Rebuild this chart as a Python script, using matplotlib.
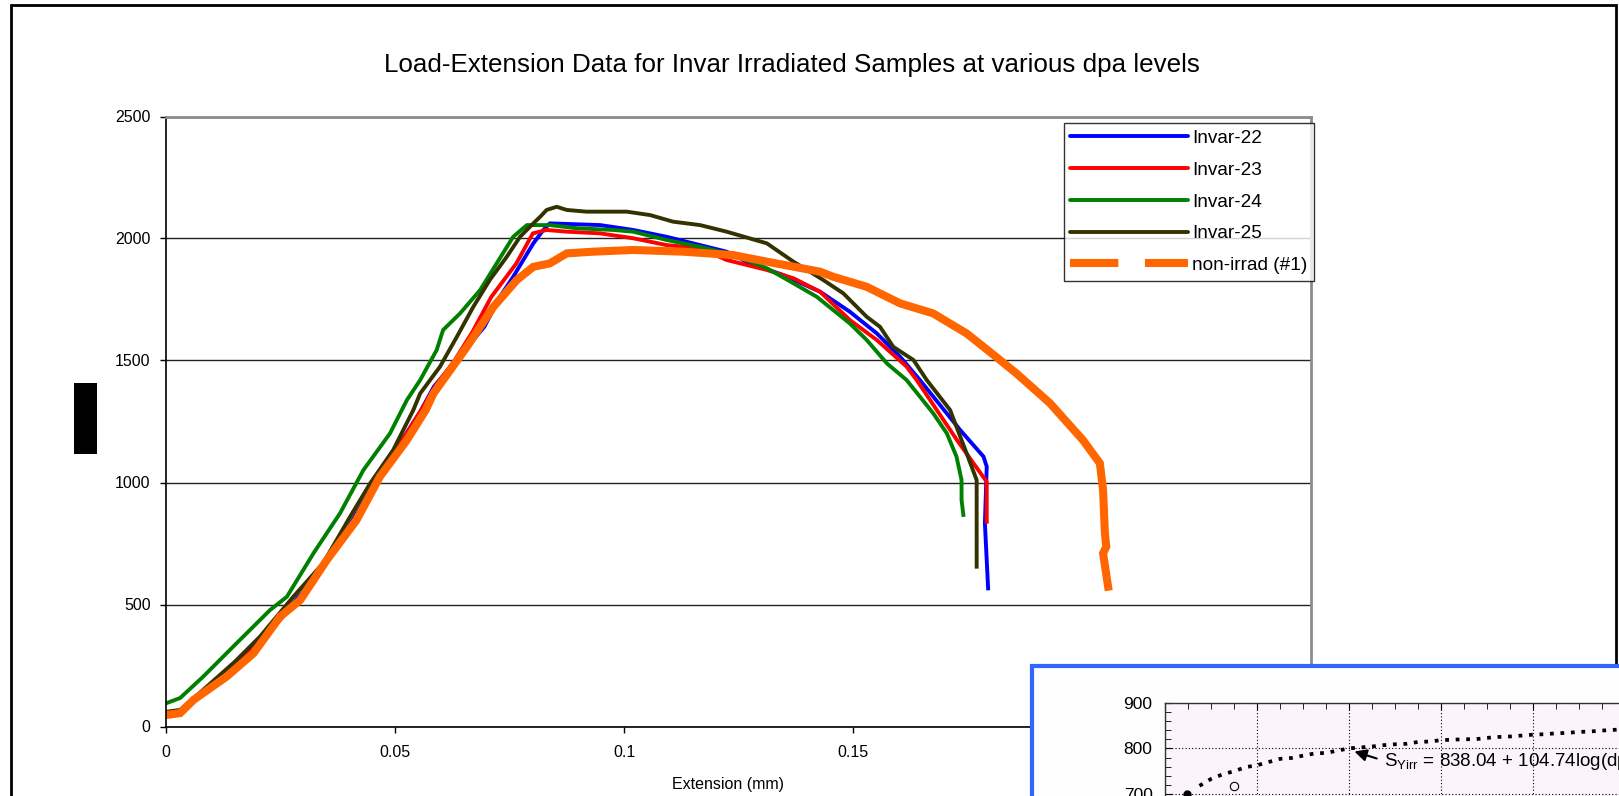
import matplotlib.pyplot as plt
from matplotlib.lines import Line2D
from matplotlib.patches import Rectangle
from matplotlib.ticker import MultipleLocator

plt.rcParams['font.family'] = ['Liberation Sans', 'DejaVu Sans']
plt.rcParams['mathtext.fontset'] = 'custom'
plt.rcParams['mathtext.rm'] = 'Liberation Sans'

# Date: extensie (mm) si sarcina
ext_22 = [0.0, 0.0031, 0.0081, 0.015, 0.021, 0.027, 0.033, 0.039, 0.044, 0.049, 0.0555, 0.0585,
          0.0621, 0.0658, 0.0695, 0.0729, 0.0758, 0.0802, 0.0824, 0.0838, 0.0948, 0.102, 0.1093,
          0.1166, 0.1224, 0.1275, 0.1348, 0.1428, 0.1493, 0.1552, 0.1603, 0.1646, 0.1734, 0.1785,
          0.1792, 0.1788, 0.1795]
load_22 = [55, 62, 140, 250, 360, 490, 620, 790, 950, 1100, 1290, 1393, 1474, 1556, 1638, 1761,
           1843, 1980, 2035, 2062, 2055, 2035, 2007, 1973, 1946, 1898, 1850, 1782, 1700, 1611,
           1515, 1420, 1215, 1106, 1065, 833, 566]

ext_23 = [0.0, 0.0031, 0.0081, 0.015, 0.021, 0.027, 0.033, 0.039, 0.044, 0.049, 0.0555, 0.059,
          0.063, 0.067, 0.071, 0.0765, 0.0801, 0.0831, 0.0875, 0.0948, 0.102, 0.1093, 0.1166,
          0.1224, 0.1312, 0.137, 0.1428, 0.1493, 0.1552, 0.1617, 0.1639, 0.1727, 0.1763, 0.1792,
          0.1792]
load_23 = [50, 58, 135, 245, 355, 480, 615, 780, 945, 1095, 1290, 1400, 1500, 1620, 1760, 1898,
           2021, 2035, 2028, 2021, 2001, 1973, 1960, 1912, 1871, 1837, 1782, 1666, 1584, 1475,
           1420, 1174, 1079, 1003, 839]

ext_24 = [0.0, 0.0031, 0.0081, 0.0154, 0.0227, 0.0264, 0.0322, 0.038, 0.0431, 0.0489, 0.0526,
          0.0555, 0.0591, 0.0605, 0.0642, 0.0686, 0.0722, 0.0758, 0.0788, 0.0838, 0.0897, 0.0977,
          0.102, 0.1093, 0.1166, 0.1239, 0.1312, 0.1362, 0.1421, 0.1493, 0.153, 0.1574, 0.1617,
          0.1675, 0.1705, 0.1726, 0.1737, 0.1737, 0.1741]
load_24 = [95, 117, 204, 341, 477, 532, 710, 874, 1051, 1201, 1338, 1420, 1543, 1625, 1693, 1789,
           1898, 2007, 2055, 2055, 2042, 2035, 2028, 1994, 1966, 1932, 1878, 1825, 1761, 1652,
           1584, 1488, 1420, 1284, 1201, 1106, 1010, 928, 867]

ext_25 = [0.0, 0.0031, 0.0081, 0.015, 0.0205, 0.0278, 0.0343, 0.0402, 0.0446, 0.0496, 0.054,
          0.0555, 0.0598, 0.0635, 0.0671, 0.0707, 0.0744, 0.0773, 0.0802, 0.0817, 0.0831, 0.0853,
          0.0875, 0.0918, 0.1006, 0.1057, 0.1107, 0.1166, 0.1224, 0.1312, 0.137, 0.1435, 0.1479,
          0.153, 0.1559, 0.1588, 0.1632, 0.1661, 0.1712, 0.1748, 0.177, 0.177]
load_25 = [60, 68, 150, 265, 368, 532, 669, 860, 997, 1133, 1297, 1365, 1474, 1597, 1720, 1830,
           1925, 2007, 2062, 2089, 2117, 2130, 2117, 2110, 2110, 2096, 2069, 2055, 2028, 1980,
           1905, 1830, 1775, 1679, 1638, 1556, 1502, 1420, 1297, 1120, 1010, 655]

ext_non = [0.0, 0.0031, 0.006, 0.0132, 0.0191, 0.0249, 0.0293, 0.0351, 0.0416, 0.0467, 0.0526,
           0.0567, 0.0584, 0.0657, 0.0715, 0.0766, 0.0802, 0.0838, 0.0875, 0.0933, 0.102, 0.1129,
           0.1239, 0.1312, 0.1428, 0.1457, 0.153, 0.1603, 0.1675, 0.1748, 0.1799, 0.1857, 0.193,
           0.2002, 0.2039, 0.2046, 0.205, 0.2053, 0.2046, 0.2057]
load_non = [47, 55, 109, 204, 300, 450, 518, 682, 846, 1024, 1174, 1297, 1365, 1556, 1720, 1830,
            1884, 1898, 1939, 1946, 1953, 1946, 1932, 1905, 1864, 1843, 1802, 1734, 1693, 1611,
            1535, 1447, 1325, 1174, 1079, 969, 792, 737, 710, 573]

series_names = ['Invar-22', 'Invar-23', 'Invar-24', 'Invar-25', 'non-irrad (#1)']
series_colors = ['#0000FF', '#FF0000', '#008000', '#333300', '#FF6600']

# Grafic mic (dreapta jos): dpa (scara aproximativa) si S_Yirr
dpa_fit = [0.375, 0.5, 0.625, 0.75, 0.88, 1.0, 1.125, 1.25, 1.375, 1.5, 1.63, 1.75, 1.875, 2.0,
           2.125, 2.25, 2.375, 2.5, 2.625, 2.75, 2.875, 3.0, 3.125, 3.25, 3.375, 3.5, 3.625, 3.75,
           3.875, 4.0, 4.125, 4.25, 4.375, 4.5, 4.625, 4.75, 5.0, 5.5, 6.0]
syirr_fit = [718, 733, 743, 750, 759, 763, 770, 777, 779, 784, 789, 790, 795, 800, 802, 804, 807,
             809, 810, 814, 815, 818, 819, 820, 820, 823, 825, 826, 828, 830, 831, 833, 834, 836,
             837, 839, 842, 847, 852]
dpa_meas = [0.24, 0.75]
syirr_meas = [701, 718]

W, H = 1619, 796


def fx(px):
    return px / W


def fy(py):
    return 1 - py / H


fig = plt.figure(figsize=(W / 100, H / 100), dpi=100)

# chenar exterior
fig.add_artist(Rectangle((fx(11), fy(820)), fx(1616 - 11), fy(5.5) - fy(820),
                         fill=False, edgecolor='black', linewidth=2, zorder=0))

ax = fig.add_axes([fx(166), fy(726.5), fx(1311 - 166), fy(116.5) - fy(726.5)])
ext_all = [ext_22, ext_23, ext_24, ext_25, ext_non]
load_all = [load_22, load_23, load_24, load_25, load_non]
for x, y, name, c in zip(ext_all, load_all, series_names, series_colors):
    lw = 5.8 if name.startswith('non') else 2.8
    ax.plot(x, y, color=c, lw=lw, solid_joinstyle='miter' if lw > 5 else 'round')

ax.set_xlim(0, 0.25)
ax.set_ylim(0, 2500)
ax.set_xticks([0, 0.05, 0.1, 0.15, 0.2, 0.25])
ax.set_xticklabels(['0', '0.05', '0.1', '0.15', '0.2', '0.25'])
ax.set_yticks([0, 500, 1000, 1500, 2000, 2500])
ax.tick_params(direction='out', length=4, width=1, labelsize=11.5, pad=7)
ax.tick_params(axis='x', pad=9)
ax.grid(axis='y', color='#222222', lw=1)
ax.set_axisbelow(True)
for s in ['left', 'bottom']:
    ax.spines[s].set_color('black')
    ax.spines[s].set_linewidth(1.2)
for s in ['top', 'right']:
    ax.spines[s].set_color('#8c8c8c')
    ax.spines[s].set_linewidth(2)

fig.text(fx(728), fy(784), 'Extension (mm)', ha='center', va='center', fontsize=11.5)
fig.text(fx(792), fy(65), 'Load-Extension Data for Invar Irradiated Samples at various dpa levels',
         ha='center', va='center', fontsize=18.7)

# eticheta Y acoperita
fig.add_artist(Rectangle((fx(74), fy(454)), fx(97 - 74), fy(383) - fy(454),
                         facecolor='black', edgecolor='none'))

handles = []
for name, c in zip(series_names, series_colors):
    if name.startswith('non'):
        handles.append(Line2D([], [], color=c, lw=5.8, linestyle=(0, (6, 3.3)), dash_capstyle='butt'))
    else:
        handles.append(Line2D([], [], color=c, lw=2.8, solid_capstyle='round'))
leg = ax.legend(handles, series_names, loc='upper right',
                bbox_to_anchor=(fx(1314), fy(123)), bbox_transform=fig.transFigure,
                fontsize=13.7, handlelength=6.2, handletextpad=0.2, labelspacing=0.76,
                borderpad=0.35, borderaxespad=0, fancybox=False, frameon=True)
leg.get_frame().set_edgecolor('black')
leg.get_frame().set_linewidth(1)

# panoul albastru cu graficul mic
fig.add_artist(Rectangle((fx(1032), fy(820)), fx(1700 - 1032), fy(666) - fy(820),
                         facecolor='#FEFEFE', edgecolor='#3366FF', linewidth=3, zorder=5))

ax2 = fig.add_axes([fx(1165), fy(839.7), fx(6 * 92), fy(702.7) - fy(839.7)], zorder=6)
ax2.set_facecolor('#FBF5FB')
ax2.plot(dpa_fit, syirr_fit, color='black', lw=2.7, linestyle=(0, (1, 1.8)), dash_capstyle='butt')
ax2.plot(dpa_meas[:1], syirr_meas[:1], 'o', color='black', ms=5)
ax2.plot(dpa_meas[1:], syirr_meas[1:], 'o', mfc='none', mec='black', ms=6, mew=0.8)
ax2.set_xlim(0, 6)
ax2.set_ylim(600, 900)
ax2.xaxis.set_major_locator(MultipleLocator(1))
ax2.xaxis.set_minor_locator(MultipleLocator(0.25))
ax2.yaxis.set_major_locator(MultipleLocator(100))
ax2.yaxis.set_minor_locator(MultipleLocator(20))
ax2.tick_params(which='both', direction='in', top=True, right=True, labelbottom=False,
                labelsize=12.5, pad=9)
ax2.tick_params(which='major', length=5)
ax2.tick_params(which='minor', length=4)
ax2.grid(which='major', color='black', lw=0.8, linestyle=(0, (1, 2)))
for s in ax2.spines.values():
    s.set_color('#333333')
    s.set_linewidth(1)
ax2.annotate('', xy=(2.03, 795), xytext=(2.33, 776),
             arrowprops=dict(arrowstyle='-|>', color='black', lw=1.5, mutation_scale=18))
ax2.text(2.38, 761, r'S$_{\mathrm{Yirr}}$ = 838.04 + 104.74log(dpa)', fontsize=13.5,
         ha='left', va='baseline')

fig.savefig('out.png', dpi=100)
